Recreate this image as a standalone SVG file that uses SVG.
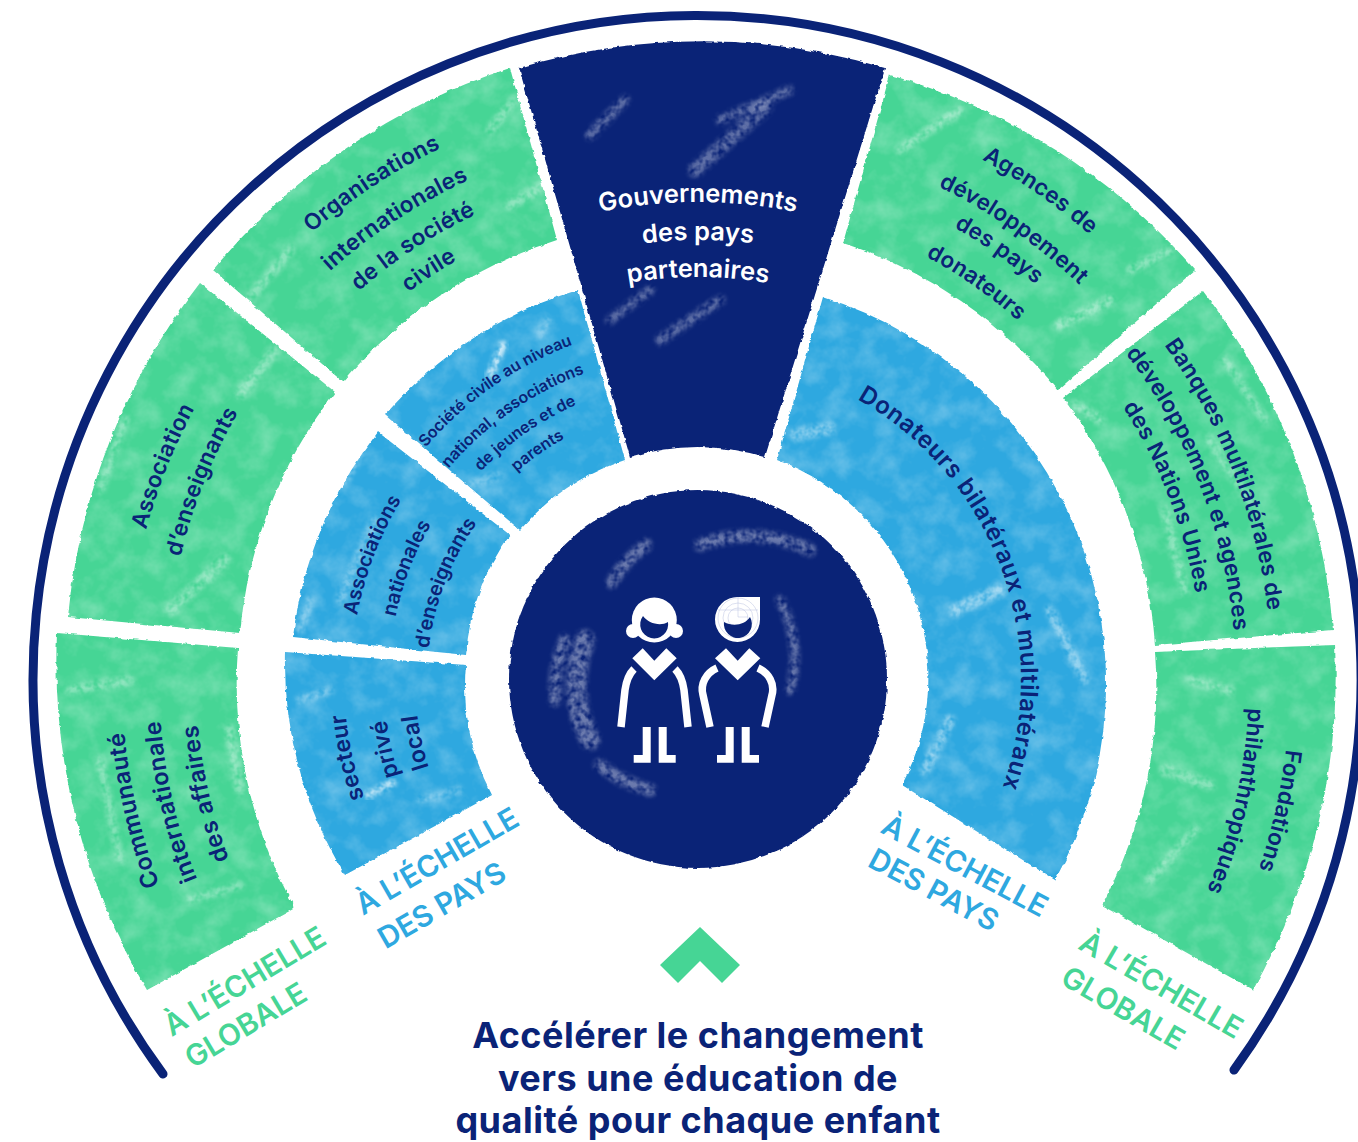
<svg xmlns="http://www.w3.org/2000/svg" width="1358" height="1142" viewBox="0 0 1358 1142">
<style>
text{font-family:"Inter","Liberation Sans",sans-serif}
.g{fill:#46d595}.b{fill:#2ea8e0}.n{fill:#0a2377}
.sec{filter:url(#rough)}
.secn{filter:url(#roughn)}
.st{fill:none;stroke:#fff;stroke-linecap:round;filter:url(#brush)}
.t{fill:#0a2377;font-weight:600;text-anchor:middle;font-size:22.5px;letter-spacing:.3px}
.tc{font-size:23.5px;letter-spacing:.5px}
.ts{font-size:20px;letter-spacing:0}.tl{font-size:23px}.tx{font-size:16px;letter-spacing:0}.td{font-size:24px;letter-spacing:.6px}
.tw{fill:#fff;font-size:25.5px;font-weight:600;text-anchor:middle}
.lab{font-size:29.5px;font-weight:600;text-anchor:middle}
.lg{fill:#46d595}.lb{fill:#2ea8e0}
.bot{fill:#0a2377;font-size:36px;font-weight:700;text-anchor:middle;letter-spacing:.5px}
</style>
<defs>
<filter id="rough" x="-5%" y="-5%" width="110%" height="110%" color-interpolation-filters="sRGB"><feTurbulence type="fractalNoise" baseFrequency="0.13 0.17" numOctaves="3" seed="4"/><feDisplacementMap in="SourceGraphic" scale="3.5" xChannelSelector="R" yChannelSelector="G" result="s"/><feTurbulence type="fractalNoise" baseFrequency="0.04" numOctaves="4" seed="12"/><feColorMatrix values="0 0 0 0 1 0 0 0 0 1 0 0 0 0 1 0 0 0 .5 -.2"/><feComposite in2="s" operator="in" result="m"/><feMerge><feMergeNode in="s"/><feMergeNode in="m"/></feMerge></filter>
<filter id="roughn" x="-5%" y="-5%" width="110%" height="110%" color-interpolation-filters="sRGB"><feTurbulence type="fractalNoise" baseFrequency="0.13 0.17" numOctaves="3" seed="4"/><feDisplacementMap in="SourceGraphic" scale="3.5" xChannelSelector="R" yChannelSelector="G"/></filter>
<filter id="brush" x="-40%" y="-40%" width="180%" height="180%" color-interpolation-filters="sRGB"><feGaussianBlur stdDeviation="2.6" result="b"/><feTurbulence type="fractalNoise" baseFrequency="0.16" numOctaves="2" seed="9"/><feColorMatrix values="0 0 0 0 1 0 0 0 0 1 0 0 0 0 1 0 0 0 2.2 -0.45"/><feComposite in="b" operator="in"/></filter>
<path id="r576" d="M0 576A576 576 0 1 1 0-576A576 576 0 1 1 0 576"/>
<path id="r539" d="M0 539A539 539 0 1 1 0-539A539 539 0 1 1 0 539"/>
<path id="r502" d="M0 502A502 502 0 1 1 0-502A502 502 0 1 1 0 502"/>
<path id="r572" d="M0 572A572 572 0 1 1 0-572A572 572 0 1 1 0 572"/>
<path id="r532" d="M0 532A532 532 0 1 1 0-532A532 532 0 1 1 0 532"/>
<path id="r591" d="M0 591A591 591 0 1 1 0-591A591 591 0 1 1 0 591"/>
<path id="r550" d="M0 550A550 550 0 1 1 0-550A550 550 0 1 1 0 550"/>
<path id="r516" d="M0 516A516 516 0 1 1 0-516A516 516 0 1 1 0 516"/>
<path id="r484" d="M0 484A484 484 0 1 1 0-484A484 484 0 1 1 0 484"/>
<path id="r478" d="M0 478A478 478 0 1 1 0-478A478 478 0 1 1 0 478"/>
<path id="r440" d="M0 440A440 440 0 1 1 0-440A440 440 0 1 1 0 440"/>
<path id="r403" d="M0 403A403 403 0 1 1 0-403A403 403 0 1 1 0 403"/>
<path id="r593" d="M0 593A593 593 0 1 1 0-593A593 593 0 1 1 0 593"/>
<path id="r549" d="M0 549A549 549 0 1 1 0-549A549 549 0 1 1 0 549"/>
<path id="r520" d="M0 520A520 520 0 1 1 0-520A520 520 0 1 1 0 520"/>
<path id="r481" d="M0 481A481 481 0 1 1 0-481A481 481 0 1 1 0 481"/>
<path id="r574" d="M0 574A574 574 0 1 1 0-574A574 574 0 1 1 0 574"/>
<path id="r538" d="M0 538A538 538 0 1 1 0-538A538 538 0 1 1 0 538"/>
<path id="r505" d="M0 505A505 505 0 1 1 0-505A505 505 0 1 1 0 505"/>
<path id="r592" d="M0 592A592 592 0 1 1 0-592A592 592 0 1 1 0 592"/>
<path id="r551" d="M0 551A551 551 0 1 1 0-551A551 551 0 1 1 0 551"/>
<path id="r323" d="M0 323A323 323 0 1 1 0-323A323 323 0 1 1 0 323"/>
<path id="r354" d="M0 354A354 354 0 1 1 0-354A354 354 0 1 1 0 354"/>
<path id="r314" d="M0 314A314 314 0 1 1 0-314A314 314 0 1 1 0 314"/>
<path id="r283" d="M0 283A283 283 0 1 1 0-283A283 283 0 1 1 0 283"/>
<path id="r347" d="M0 347A347 347 0 1 1 0-347A347 347 0 1 1 0 347"/>
<path id="r309" d="M0 309A309 309 0 1 1 0-309A309 309 0 1 1 0 309"/>
<path id="r271" d="M0 271A271 271 0 1 1 0-271A271 271 0 1 1 0 271"/>
<path id="r358" d="M0 358A358 358 0 1 1 0-358A358 358 0 1 1 0 358"/>
<path id="r327" d="M0 327A327 327 0 1 1 0-327A327 327 0 1 1 0 327"/>
<path id="r301" d="M0 301A301 301 0 1 1 0-301A301 301 0 1 1 0 301"/>
<path id="r276" d="M0 276A276 276 0 1 1 0-276A276 276 0 1 1 0 276"/>
</defs>
<rect width="1358" height="1142" fill="#fff"/>

<g id="outer-arc"><path d="M163 1074A664 664 0 1 1 1234 1070" fill="none" stroke="#0a2377" stroke-width="9" stroke-linecap="round"/></g>

<g id="communaute">
<path class="g sec" d="M147 990A640 640 0 0 1 57 633L238 648A462 462 0 0 0 295 908Z"/>
<g class="st" stroke-opacity=".35"><path stroke-width="10" d="M70 690L130 680"/><path stroke-width="11" d="M230 730L240 790"/><path stroke-width="9" d="M100 760L120 860"/><path stroke-width="9" d="M190 900L240 885"/></g>
<g transform="translate(698 680) rotate(-103)">
<text class="t tc"><textPath href="#r576" startOffset="50%">Communauté</textPath></text>
<text class="t tc"><textPath href="#r539" startOffset="50%">internationale</textPath></text>
<text class="t tc"><textPath href="#r502" startOffset="50%">des affaires</textPath></text>
</g>
</g>

<g id="association-enseignants">
<path class="g sec" d="M68 617A640 640 0 0 1 200 283L335 392A462 462 0 0 0 240 633Z"/>
<g class="st" stroke-opacity=".35"><path stroke-width="11" d="M240 395L275 350"/><path stroke-width="13" d="M170 610L225 560"/><path stroke-width="9" d="M100 490L125 420"/></g>
<g transform="translate(698 680) rotate(-68.2)">
<text class="t"><textPath href="#r572" startOffset="50%">Association</textPath></text>
<text class="t"><textPath href="#r532" startOffset="50%">d’enseignants</textPath></text>
</g>
</g>

<g id="organisations-societe-civile">
<path class="g sec" d="M213 270A640 640 0 0 1 510 68L557 240A462 462 0 0 0 343 382Z"/>
<g class="st" stroke-opacity=".35"><path stroke-width="10" d="M240 310L290 250"/><path stroke-width="10" d="M490 130L515 100"/><path stroke-width="11" d="M510 205L545 185"/></g>
<g transform="translate(698 680) rotate(-33.3)">
<text class="t"><textPath href="#r591" startOffset="50%">Organisations</textPath></text>
<text class="t"><textPath href="#r550" startOffset="50%">internationales</textPath></text>
<text class="t"><textPath href="#r516" startOffset="50%">de la société</textPath></text>
<text class="t"><textPath href="#r484" startOffset="50%">civile</textPath></text>
</g>
</g>

<g id="gouvernements">
<path class="n secn" d="M519 68A640 640 0 0 1 885 68L765 457A235 235 0 0 0 630 457Z"/>
<g class="st" stroke-opacity=".35"><path stroke-width="14" d="M695 170L765 108"/><path stroke-width="10" d="M590 135L625 100"/><path stroke-width="9" d="M720 120L790 90"/><path stroke-width="10" d="M660 340L720 300"/><path stroke-width="9" d="M610 320L650 290"/></g>
<g transform="translate(698 680)">
<text class="tw"><textPath href="#r478" startOffset="50%">Gouvernements</textPath></text>
<text class="tw"><textPath href="#r440" startOffset="50%">des pays</textPath></text>
<text class="tw"><textPath href="#r403" startOffset="50%">partenaires</textPath></text>
</g>
</g>

<g id="agences">
<path class="g sec" d="M890 75A640 640 0 0 1 1195 270L1058 390A462 462 0 0 0 843 243Z"/>
<g class="st" stroke-opacity=".4"><path stroke-width="11" d="M1060 325L1110 300"/><path stroke-width="9" d="M900 150L960 110"/><path stroke-width="9" d="M1130 270L1170 250"/></g>
<g transform="translate(698 680) rotate(35)">
<text class="t"><textPath href="#r593" startOffset="50%">Agences de</textPath></text>
<text class="t"><textPath href="#r549" startOffset="50%">développement</textPath></text>
<text class="t"><textPath href="#r520" startOffset="50%">des pays</textPath></text>
<text class="t"><textPath href="#r481" startOffset="50%">donateurs</textPath></text>
</g>
</g>

<g id="banques">
<path class="g sec" d="M1203 291A640 640 0 0 1 1333 630L1155 645A462 462 0 0 0 1063 398Z"/>
<g class="st" stroke-opacity=".35"><path stroke-width="10" d="M1210 440L1250 500"/><path stroke-width="11" d="M1075 405L1100 420"/><path stroke-width="10" d="M1165 510L1185 590"/><path stroke-width="9" d="M1225 360L1265 420"/></g>
<g transform="translate(698 680) rotate(68.7)">
<text class="t"><textPath href="#r574" startOffset="50%">Banques multilatérales de</textPath></text>
<text class="t"><textPath href="#r538" startOffset="50%">développement et agences</textPath></text>
<text class="t"><textPath href="#r505" startOffset="50%">des Nations Unies</textPath></text>
</g>
</g>

<g id="fondations">
<path class="g sec" d="M1335 645A640 640 0 0 1 1253 990L1102 905A462 462 0 0 0 1155 652Z"/>
<g class="st" stroke-opacity=".35"><path stroke-width="12" d="M1165 770L1210 785"/><path stroke-width="10" d="M1190 680L1230 690"/><path stroke-width="10" d="M1150 880L1195 830"/></g>
<g transform="translate(698 680) rotate(102.7)">
<text class="t"><textPath href="#r592" startOffset="50%">Fondations</textPath></text>
<text class="t"><textPath href="#r551" startOffset="50%">philanthropiques</textPath></text>
</g>
</g>

<g id="secteur-prive">
<path class="b sec" d="M345 875A410 410 0 0 1 285 652L466 665A232 232 0 0 0 492 795Z"/>
<g class="st" stroke-opacity=".75"><path stroke-width="8" d="M368 795L392 783"/></g>
<g class="st" stroke-opacity=".3"><path stroke-width="10" d="M300 700L330 690"/><path stroke-width="9" d="M420 800L460 790"/></g>
<g transform="translate(698 680) rotate(-102.5)">
<text class="t tl"><textPath href="#r354" startOffset="50%">secteur</textPath></text>
<text class="t tl"><textPath href="#r314" startOffset="50%">privé</textPath></text>
<text class="t tl"><textPath href="#r283" startOffset="50%">local</textPath></text>
</g>
</g>

<g id="associations-nationales">
<path class="b sec" d="M293 637A410 410 0 0 1 378 432L510 535A232 232 0 0 0 466 655Z"/>
<g class="st" stroke-opacity=".35"><path stroke-width="9" d="M345 480L360 455"/><path stroke-width="10" d="M340 600L375 520"/><path stroke-width="9" d="M300 630L310 600"/></g>
<g transform="translate(698 680) rotate(-69)">
<text class="t ts"><textPath href="#r347" startOffset="50%">Associations</textPath></text>
<text class="t ts"><textPath href="#r309" startOffset="50%">nationales</textPath></text>
<text class="t ts"><textPath href="#r271" startOffset="50%">d’enseignants</textPath></text>
</g>
</g>

<g id="societe-civile">
<path class="b sec" d="M385 415A410 410 0 0 1 578 290L625 460A232 232 0 0 0 520 530Z"/>
<g class="st" stroke-opacity=".8"><path stroke-width="8" d="M490 375L503 345"/></g>
<g class="st" stroke-opacity=".3"><path stroke-width="9" d="M540 335L548 320"/><path stroke-width="9" d="M470 485L500 475"/></g>
<g transform="translate(698 680) rotate(-35)">
<text class="t tx"><textPath href="#r358" startOffset="50%">Société civile au niveau</textPath></text>
<text class="t tx"><textPath href="#r327" startOffset="50%">national, associations</textPath></text>
<text class="t tx"><textPath href="#r301" startOffset="50%">de jeunes et de</textPath></text>
<text class="t tx"><textPath href="#r276" startOffset="50%">parents</textPath></text>
</g>
</g>

<g id="donateurs">
<path class="b sec" d="M823 297A405 405 0 0 1 1055 880L902 785A232 232 0 0 0 777 460Z"/>
<g class="st" stroke-opacity=".45"><path stroke-width="12" d="M795 435L830 428"/><path stroke-width="13" d="M955 610L1000 590"/><path stroke-width="11" d="M925 770L950 720"/><path stroke-width="10" d="M1050 610L1085 680"/></g>
<g transform="translate(698 680) rotate(69.5)">
<text class="t td"><textPath href="#r323" startOffset="50%">Donateurs bilatéraux et multilatéraux</textPath></text>
</g>
</g>

<g id="centre">
<circle class="n secn" cx="698" cy="679" r="189"/>
<g class="st" stroke-opacity=".4">
<path stroke-width="12" d="M612 582A125 125 0 0 1 646 545"/>
<path stroke-width="12" d="M565 640A135 135 0 0 0 555 700"/>
<path stroke-width="20" d="M585 640A120 120 0 0 0 590 740"/>
<path stroke-width="12" d="M700 545A140 140 0 0 1 810 550"/>
<path stroke-width="12" d="M600 765A130 130 0 0 0 650 790"/>
<path stroke-width="9" d="M780 600A120 120 0 0 1 790 690"/>
</g>
<g fill="#fff">
<circle cx="654.3" cy="620" r="22.5"/><circle cx="633" cy="631" r="7"/><circle cx="676" cy="631" r="7"/>
<path class="n" d="M643 616C648 623 660 627 668 622A14 14 0 1 1 643 616Z"/>
<polygon points="632.3,658.3 642.7,648.3 654.3,660.7 666.3,648.3 676.7,658.3 654.3,680.3"/>
<polygon points="642.7,727 650.7,727 650.7,762.7 633.7,762.7 633.7,755 642.7,755"/>
<polygon points="658.7,727 666.7,727 666.7,755 675.7,755 675.7,762.7 658.7,762.7"/>
<path d="M738 597H760V619.5A22.5 22.5 0 1 1 738 597Z"/>
</g>
<g fill="none" stroke="#a9b3da" stroke-width=".4"><circle cx="738" cy="618" r="20"/><circle cx="738" cy="618" r="15"/><circle cx="738" cy="618" r="10"/><path d="M738 597V617H748M718 610H758"/></g>
<g fill="#fff">
<path class="n" d="M724 622C733 627 745 625 750 617A14 14 0 1 1 724 622Z"/>
<polygon points="715,658.3 726,648.3 737.7,660.7 749.3,648.3 760.3,658.3 737.7,680.3"/>
<polygon points="725.7,727 733.7,727 733.7,762.7 717,762.7 717,755 725.7,755"/>
<polygon points="741.7,727 749.7,727 749.7,755 759,755 759,762.7 741.7,762.7"/>
</g>
<g fill="none" stroke="#fff" stroke-width="7.5">
<path d="M634 669C628 675 626 683 625 690L621 727"/>
<path d="M675 669C681 675 683 683 684 690L688 727"/>
<path d="M717 668C706 673 700 684 703 695L710 727"/>
<path d="M758 668C769 673 775 684 772 695L765 727"/>
</g>
</g>

<g id="label-global-gauche"><text class="lab lg" transform="translate(250 990) rotate(-31)">À L’ÉCHELLE</text><text class="lab lg" transform="translate(251 1034) rotate(-31)">GLOBALE</text></g>
<g id="label-pays-gauche"><text class="lab lb" transform="translate(442 870) rotate(-30)">À L’ÉCHELLE</text><text class="lab lb" transform="translate(447 914) rotate(-30)">DES PAYS</text></g>
<g id="label-pays-droite"><text class="lab lb" transform="translate(960 875) rotate(28)">À L’ÉCHELLE</text><text class="lab lb" transform="translate(929 899) rotate(28)">DES PAYS</text></g>
<g id="label-global-droite"><text class="lab lg" transform="translate(1156 994) rotate(30)">À L’ÉCHELLE</text><text class="lab lg" transform="translate(1118 1017) rotate(30)">GLOBALE</text></g>

<g id="chevron"><polygon class="g" points="660,965 700,927 740,965 722,983 700,961 678,983"/></g>
<g id="titre">
<text class="bot" x="698" y="1048">Accélérer le changement</text>
<text class="bot" x="698" y="1091">vers une éducation de</text>
<text class="bot" x="698" y="1133">qualité pour chaque enfant</text>
</g>
</svg>
